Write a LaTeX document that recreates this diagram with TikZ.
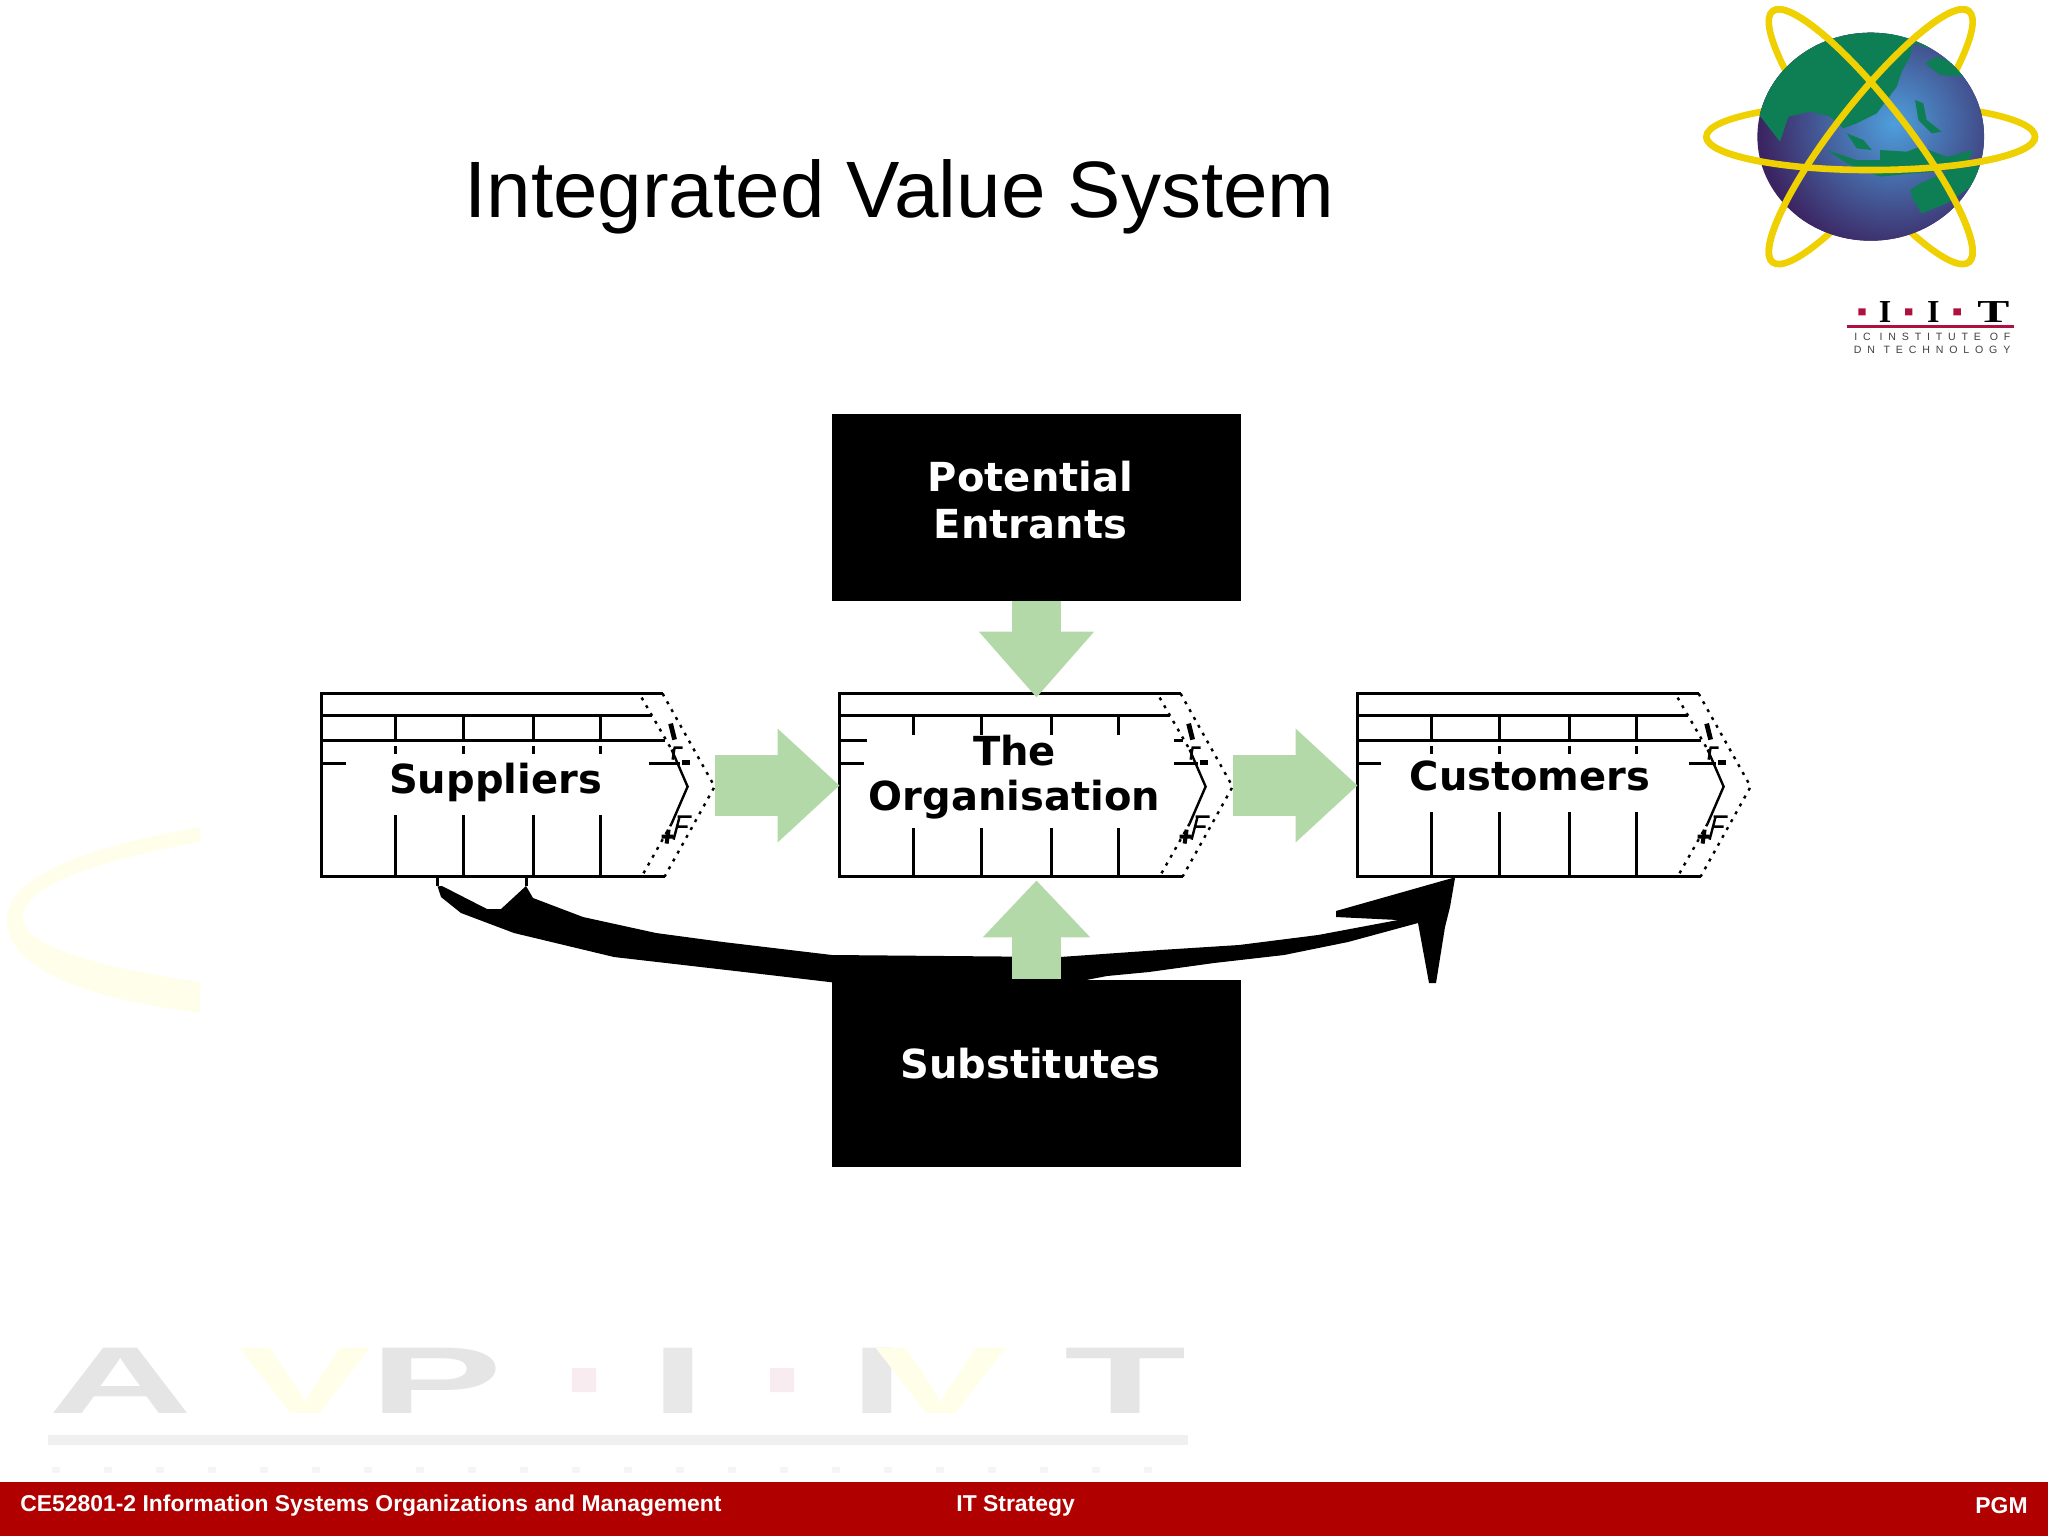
\documentclass[tikz,border=0pt]{standalone}
\usepackage{fontspec}
\setmainfont{Liberation Sans}
\newfontfamily\boxfont{DejaVu Sans}
\newfontfamily\iitfont{Liberation Serif}
\newfontfamily\iitsmall[LetterSpace=55]{Liberation Sans}
\usepackage{tikz}
\usetikzlibrary{arrows.meta,positioning,calc}

\definecolor{flowgreen}{HTML}{B4D9A9}
\definecolor{barred}{HTML}{B00000}
\definecolor{ringyellow}{HTML}{EFD000}
\definecolor{landgreen}{HTML}{0E7F55}
\definecolor{seablue}{HTML}{4E9FDC}
\definecolor{seaviolet}{HTML}{3C2462}
\definecolor{iitred}{HTML}{B01040}

\tikzset{
    chainbox/.style={minimum width=196.5pt, minimum height=91.5pt, inner sep=0pt},
    chainpatch/.style={fill=white, inner sep=0pt},
    boxtext/.style={inner sep=0pt, align=center, font=\boxfont\bfseries\fontsize{20}{23.5}\selectfont},
    forcebox/.style={fill=black, minimum width=204.5pt, minimum height=93.5pt, inner sep=0pt},
    flowh/.style={flowgreen, line width=30.5pt, -{Triangle[length=31pt,width=55pt]}},
    ring/.style={ringyellow, line width=3.3pt},
    faint/.style={inner sep=0pt, anchor=base, xscale=2, yscale=.95, font=\bfseries\fontsize{50}{50}\selectfont},
    chainshape/.pic={
        \draw[line width=1.5pt] (341,0) -- (0,0) -- (0,183) -- (343,183);
        \draw[line width=1.5pt] (0,22) -- (330,22);
        \draw[line width=1.5pt] (0,47) -- (343,47);
        \draw[line width=1.5pt] (0,70) -- (24,70);
        \draw[line width=1.5pt] (327,70) -- (358,70);
        \foreach \tx in {74,142,212,279} {
            \draw[line width=1.5pt] (\tx,22) -- (\tx,40);
            \draw[line width=1.5pt, dash pattern=on 4pt off 2pt] (\tx,40) -- (\tx,64);
            \draw[line width=1.5pt] (\tx,100) -- (\tx,183);
        }
        \draw[line width=1.2pt, dash pattern=on 1.5pt off 3pt] (341,0) -- (393,93) -- (343,183);
        \draw[line width=1.2pt, dash pattern=on 1.5pt off 3pt] (320,4) -- (350,56);
        \draw[line width=1.2pt, dash pattern=on 1.5pt off 3pt] (350,130) -- (320,183);
        \draw[line width=1.2pt] (350,56) -- (366,93) -- (350,130);
        % small marks on the chevron
        \draw[line width=2.4pt] (349,30) -- (353,46);
        \draw[line width=1.2pt] (352,54) -- (361,54) (353,54) -- (351,66);
        \draw[line width=2.4pt] (360,69) -- (368,69);
        \draw[line width=1.2pt] (356,123) -- (370,123) (358,123) -- (352,146) (356,133) -- (366,133);
        \draw[line width=2pt] (340,143) -- (352,143) (347,136) -- (345,150);
    }
}

\begin{document}
\begin{tikzpicture}[x=0.5pt, y=-0.5pt]
\useasboundingbox (0,0) rectangle (2048,1536);

% watermark
\node[faint, text=black!10] (wma) at (121,1413) {A};
\node[faint, text=yellow!9] (wmv) at (305,1413) {V};
\node[faint, text=black!10] (wmp) at (436,1413) {P};
\node[faint, text=black!9] (wmi) at (678,1413) {I};
\node[faint, text=black!9] (wmj) at (877,1413) {I};
\node[faint, text=yellow!9] (wmw) at (941,1413) {V};
\node[faint, text=black!10] (wmt) at (1126,1413) {T};
\fill[iitred!8] (572,1368) rectangle (596,1392) (770,1368) rectangle (794,1392);
\fill[black!6] (48,1435) rectangle (1188,1445);
\draw[black!4, line width=3pt, dash pattern=on 4pt off 22pt] (52,1470) -- (1188,1470);
% faint ring on the left
\fill[yellow!8] (200,827) .. controls (70,850) and (7,880) .. (7,920) .. controls (7,960) and (60,995) .. (200,1013) -- (200,982) .. controls (120,970) and (23,950) .. (23,918) .. controls (23,885) and (100,860) .. (200,842) -- cycle;

% title
\node[anchor=west, inner sep=0pt, font=\fontsize{40}{44}\selectfont] (title) at (464,197) {Integrated Value System};

% globe logo, in the scale of a 3x crop
\begin{scope}[shift={(1680,0)}, x=0.1667pt, y=-0.1667pt]
\coordinate (hub) at (572,410);
\draw[ring, rotate around={52:(hub)}] (hub) ellipse [x radius=478, y radius=105];
\draw[ring, rotate around={-52:(hub)}] (hub) ellipse [x radius=478, y radius=105];
\draw[ring] (hub) ellipse [x radius=493, y radius=100];
\begin{scope}
\clip (572,410) ellipse [x radius=340, y radius=312];
\fill[seaviolet] (200,50) rectangle (950,750);
\shade[inner color=seablue, outer color=seaviolet] (640,370) circle (400);
\fill[landgreen] (230,335) -- (300,425) -- (325,350) -- (390,335) -- (450,350) -- (490,385) -- (530,370) -- (590,340) -- (650,260) -- (665,215) -- (690,170) -- (700,130) -- (745,145) -- (720,50) -- (300,50) -- (200,200) -- cycle;
\fill[landgreen] (735,190) -- (770,170) -- (830,190) -- (850,230) -- (780,225) -- cycle;
\fill[landgreen] (705,300) -- (730,310) -- (740,360) -- (785,395) -- (755,400) -- (715,360) -- cycle;
\fill[landgreen] (500,400) -- (550,420) -- (575,450) -- (530,445) -- cycle;
\fill[landgreen] (440,450) -- (500,490) -- (600,530) -- (700,520) -- (850,510) -- (880,450) -- (800,470) -- (720,440) -- (680,455) -- (600,450) -- (600,480) -- (530,480) -- cycle;
\fill[landgreen] (690,570) -- (720,550) -- (800,515) -- (920,490) -- (900,540) -- (800,610) -- (725,640) -- (700,600) -- cycle;
\end{scope}
\begin{scope}[shift={(hub)}, rotate=52]
\draw[ring] (180:478 and 105) arc [start angle=180, end angle=360, x radius=478, y radius=105];
\end{scope}
\begin{scope}[shift={(hub)}, rotate=-52]
\draw[ring] (180:478 and 105) arc [start angle=180, end angle=360, x radius=478, y radius=105];
\end{scope}
\begin{scope}[shift={(hub)}]
\draw[ring] (0:493 and 100) arc [start angle=0, end angle=180, x radius=493, y radius=100];
\end{scope}
% IIT mark
\fill[iitred] (535,925) rectangle (557,946) (675,925) rectangle (697,946) (820,925) rectangle (842,946);
\node[inner sep=0pt, font=\iitfont\bfseries\fontsize{16}{16}\selectfont] (iita) at (615,936) {I};
\node[inner sep=0pt, font=\iitfont\bfseries\fontsize{16}{16}\selectfont] (iitb) at (760,936) {I};
\node[inner sep=0pt, xscale=1.5, font=\iitfont\bfseries\fontsize{16}{16}\selectfont] (iitc) at (940,936) {T};
\fill[iitred] (500,975) rectangle (1002,985);
\node[inner sep=0pt, anchor=east, text=black!75, font=\iitsmall\fontsize{5.3}{6}\selectfont] (iitd) at (992,1010) {IC INSTITUTE OF};
\node[inner sep=0pt, anchor=east, text=black!75, font=\iitsmall\fontsize{5.3}{6}\selectfont] (iite) at (992,1050) {DN TECHNOLOGY};
\end{scope}

% the three chain boxes
\foreach \name/\xx in {sup/322,org/840,cust/1358} {
    \node[chainbox] (\name) at (\xx+196.5,785.5) {};
    \pic at (\name.north west) {chainshape};
}

% black curve under the boxes
\coordinate (curvefrom) at ($(sup.south west)+(116,0)$);
\coordinate (curveto) at ($(cust.south west)+(97,0)$);
\fill (curvefrom) ++(0,9) -- (442,886) -- (487,909) -- (501,909) -- (526,886) -- (533,898) -- (583,917) -- (656,933) -- (723,942) -- (832,955) -- (1060,957) -- (1160,950) -- (1239,945) -- (1318,935) -- (1398,920) -- (1336,917) -- (1336,911) -- (curveto) -- (1455,878) -- (1450,907) -- (1445,927) -- (1436,983) -- (1429,983) -- (1418,923) -- (1348,942) -- (1284,955) -- (1214,963) -- (1149,972) -- (1107,976) -- (1060,985) -- (855,985) -- (744,972) -- (614,957) -- (514,933) -- (461,913) -- (441,897) -- cycle;
\draw[line width=1.2pt] (curvefrom) -- ++(0,9);
\draw[line width=1.2pt] ($(curvefrom)+(89,0)$) -- ++(0,9);

\node[forcebox] (pot) at (1036.5,507.5) {};
\node[forcebox] (subs) at (1036.5,1073) {};
\node[boxtext, text=white] (potlabel) at ($(pot)+(-6,-7)$) {Potential\\Entrants};
\node[boxtext, text=white] (subslabel) at ($(subs)+(-6,-9)$) {Substitutes};

\node[chainpatch, minimum width=151.5pt, minimum height=28.5pt] (suppatch) at (497.5,786.5) {};
\node[chainpatch, minimum width=153.5pt, minimum height=46.5pt] (orgpatch) at (1020.5,781) {};
\node[chainpatch, minimum width=154pt, minimum height=27pt] (custpatch) at (1535,785) {};
\node[boxtext] (suplabel) at ($(suppatch)+(-2,-4)$) {Suppliers};
\node[boxtext, font=\boxfont\bfseries\fontsize{20}{22.3}\selectfont] (orglabel) at ($(orgpatch)+(-6,-4)$) {The\\Organisation};
\node[boxtext] (custlabel) at ($(custpatch)+(-5,-9)$) {Customers};

\draw[flowh] (sup.east) -- (org.west);
\draw[flowh] (org.east) -- (cust.west);
\draw[flowgreen, line width=24.5pt, -{Triangle[length=33pt,width=55.5pt]}, shorten >=-2pt] (pot.south) -- (org.north);
\draw[flowgreen, line width=24.5pt, -{Triangle[length=28.5pt,width=52pt]}, shorten >=1.5pt] (subs.north) -- (org.south);

% footer
\fill[barred] (0,1482) rectangle (2048,1536);
\node[anchor=west, inner sep=0pt, text=white, font=\bfseries\fontsize{11.45}{13}\selectfont] (course) at (20,1506) {CE52801-2 Information Systems Organizations and Management};
\node[anchor=west, inner sep=0pt, text=white, font=\bfseries\fontsize{11.45}{13}\selectfont] (topic) at (956,1506) {IT Strategy};
\node[anchor=east, inner sep=0pt, text=white, font=\bfseries\fontsize{11.45}{13}\selectfont] (who) at (2028,1506) {PGM};
\end{tikzpicture}
\end{document}
